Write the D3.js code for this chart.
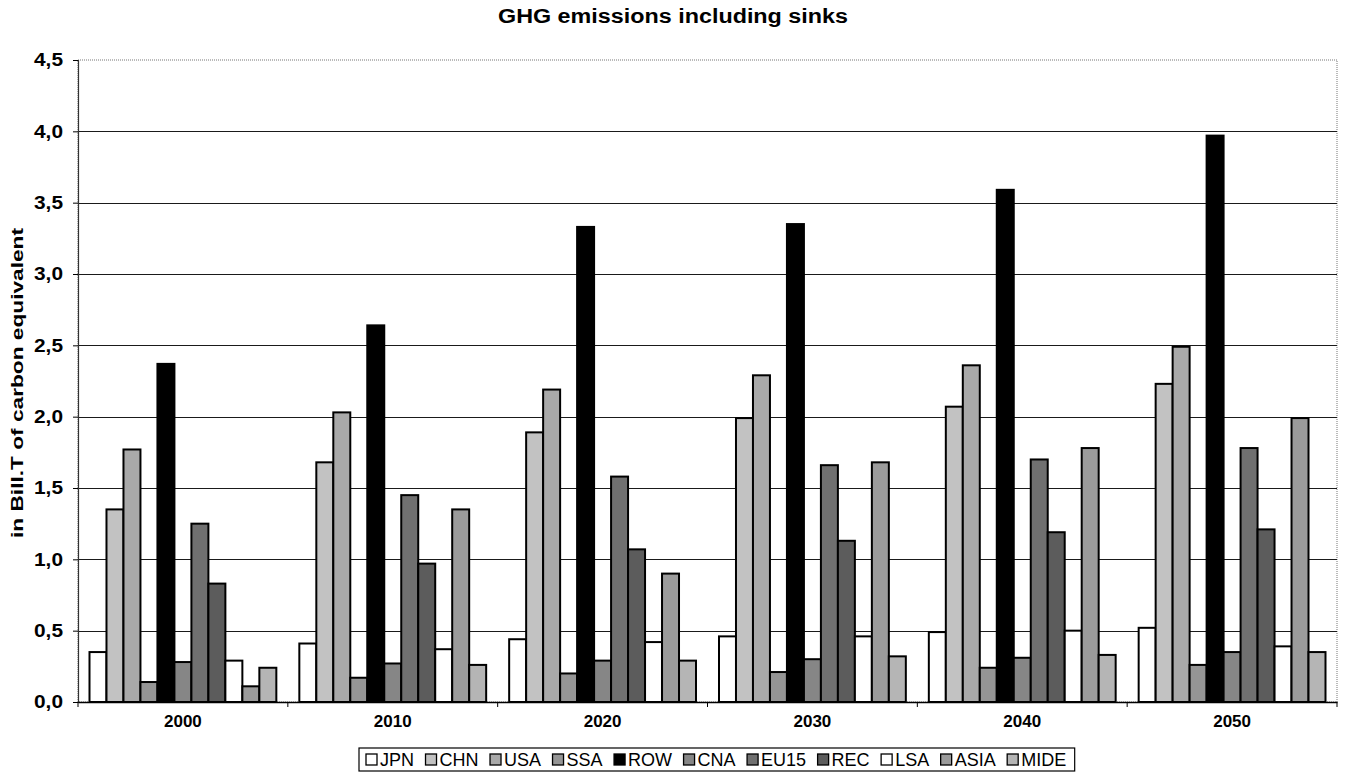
<!DOCTYPE html>
<html>
<head>
<meta charset="utf-8">
<script src="https://cdn.jsdelivr.net/npm/d3@7"></script>
<style>
  html, body { margin: 0; padding: 0; background: #fff; }
  svg { display: block; }
  text { font-family: "Liberation Sans", Arial, sans-serif; fill: #000; }
</style>
</head>
<body>
<svg id="chart" width="1346" height="777"></svg>
<script>
// Years on the category axis
const years = ["2000", "2010", "2020", "2030", "2040", "2050"];

// Regions (series), in drawing order
const regions = ["JPN", "CHN", "USA", "SSA", "ROW", "CNA", "EU15", "REC", "LSA", "ASIA", "MIDE"];

// Fill for each region
const regionFills = ["#ffffff", "#c2c2c2", "#a9a9a9", "#959595", "#000000", "#868686",
                     "#707070", "#5c5c5c", "#ffffff", "#9b9b9b", "#b5b5b5"];

// GHG emissions including sinks, Bill. t carbon equivalent (one value per year)
const JPN  = [0.35, 0.41, 0.44, 0.46, 0.49, 0.52];
const CHN  = [1.35, 1.68, 1.89, 1.99, 2.07, 2.23];
const USA  = [1.77, 2.03, 2.19, 2.29, 2.36, 2.49];
const SSA  = [0.14, 0.17, 0.20, 0.21, 0.24, 0.26];
const ROW  = [2.37, 2.64, 3.33, 3.35, 3.59, 3.97];
const CNA  = [0.28, 0.27, 0.29, 0.30, 0.31, 0.35];
const EU15 = [1.25, 1.45, 1.58, 1.66, 1.70, 1.78];
const REC  = [0.83, 0.97, 1.07, 1.13, 1.19, 1.21];
const LSA  = [0.29, 0.37, 0.42, 0.46, 0.50, 0.39];
const ASIA = [0.11, 1.35, 0.90, 1.68, 1.78, 1.99];
const MIDE = [0.24, 0.26, 0.29, 0.32, 0.33, 0.35];

// Value axis ticks
const yTicks = [0, 0.5, 1.0, 1.5, 2.0, 2.5, 3.0, 3.5, 4.0, 4.5];

const seriesValues = [JPN, CHN, USA, SSA, ROW, CNA, EU15, REC, LSA, ASIA, MIDE];

const svg = d3.select("#chart");
const plot = { left: 78, right: 1337, top: 60, bottom: 702 };

const x0 = d3.scaleBand().domain(years).range([plot.left, plot.right]).padding(0);
const groupPad = 11.5;
const x1 = d3.scaleBand().domain(regions)
  .range([groupPad, x0.bandwidth() - groupPad]).padding(0);
const y = d3.scaleLinear().domain([0, 4.5]).range([plot.bottom, plot.top]);
const color = d3.scaleOrdinal().domain(regions).range(regionFills);

const fmt = v => d3.format(".1f")(v).replace(".", ",");
const FONT = "'Liberation Sans', Arial, sans-serif";

// Title
svg.append("text")
  .attr("x", 673).attr("y", 23)
  .attr("text-anchor", "middle")
  .attr("textLength", 350).attr("lengthAdjust", "spacingAndGlyphs")
  .style("font-size", "20px").style("font-weight", "bold")
  .text("GHG emissions including sinks");

// Plot frame (top and right edges, dotted grey)
svg.append("rect")
  .attr("x", plot.left).attr("y", plot.top)
  .attr("width", plot.right - plot.left).attr("height", plot.bottom - plot.top)
  .attr("fill", "none").attr("stroke", "#777").attr("stroke-width", 1)
  .attr("stroke-dasharray", "1,1");

// Horizontal gridlines
svg.append("g")
  .selectAll("line")
  .data(yTicks.filter(t => t > 0 && t < 4.5))
  .join("line")
  .attr("x1", plot.left).attr("x2", plot.right)
  .attr("y1", d => Math.round(y(d)) + 0.5).attr("y2", d => Math.round(y(d)) + 0.5)
  .attr("stroke", "#1a1a1a").attr("stroke-width", 1.2);

// Bars
const groups = svg.append("g")
  .selectAll("g")
  .data(years.map((yr, i) => ({ year: yr, i })))
  .join("g")
  .attr("transform", d => `translate(${x0(d.year)},0)`);

groups.selectAll("rect")
  .data(d => regions.map((r, k) => ({ region: r, value: seriesValues[k][d.i] })))
  .join("rect")
  .attr("x", d => x1(d.region))
  .attr("y", d => y(d.value))
  .attr("width", x1.bandwidth())
  .attr("height", d => y(0) - y(d.value))
  .attr("fill", d => color(d.region))
  .attr("stroke", "#000").attr("stroke-width", 2);

// Y axis
const yAxis = d3.axisLeft(y).tickValues(yTicks).tickFormat(fmt).tickSize(5).tickPadding(10);
const gy = svg.append("g").attr("transform", `translate(${plot.left},0)`).call(yAxis);
gy.select(".domain").attr("stroke", "#333").attr("stroke-width", 1.2);
gy.selectAll(".tick line").attr("stroke", "#000");
gy.selectAll(".tick text")
  .attr("textLength", 29).attr("lengthAdjust", "spacingAndGlyphs")
  .style("font-size", "18px").style("font-weight", "bold")
  .style("font-family", FONT);

// X axis: ticks on category boundaries, labels centred under groups
const xAxis = d3.axisBottom(x0).tickSize(0).tickPadding(13);
const gx = svg.append("g").attr("transform", `translate(0,${plot.bottom})`).call(xAxis);
gx.select(".domain").attr("stroke", "#000").attr("stroke-width", 1.5);
gx.selectAll(".tick text")
  .style("font-size", "17px").style("font-weight", "bold")
  .style("font-family", FONT);

const boundaries = years.map(yr => x0(yr)).concat([plot.right]);
svg.append("g")
  .selectAll("line")
  .data(boundaries)
  .join("line")
  .attr("x1", d => d).attr("x2", d => d)
  .attr("y1", plot.bottom).attr("y2", plot.bottom + 5)
  .attr("stroke", "#000").attr("stroke-width", 1);

// Y axis title
svg.append("text")
  .attr("transform", `translate(23,${(plot.top + plot.bottom) / 2 + 2}) rotate(-90)`)
  .attr("text-anchor", "middle")
  .attr("textLength", 310).attr("lengthAdjust", "spacingAndGlyphs")
  .style("font-size", "17px").style("font-weight", "bold")
  .text("in Bill.T of carbon equivalent");

// Legend
const legend = svg.append("g");
const legendTop = 748, legendH = 23;
let cursor = 366;
regions.forEach((r, k) => {
  const g = legend.append("g");
  g.append("rect")
    .attr("x", cursor).attr("y", legendTop + 6)
    .attr("width", 11).attr("height", 11)
    .attr("fill", regionFills[k]).attr("stroke", "#000").attr("stroke-width", 1.3);
  const t = g.append("text")
    .attr("x", cursor + 14).attr("y", legendTop + 18)
    .style("font-size", "18px")
    .text(r);
  const w = t.node().getComputedTextLength();
  cursor += 14 + w + 11.5;
});
legend.insert("rect", ":first-child")
  .attr("x", 359).attr("y", legendTop)
  .attr("width", cursor - 359 - 3).attr("height", legendH)
  .attr("fill", "#fff").attr("stroke", "#000").attr("stroke-width", 1.2);
</script>
</body>
</html>
